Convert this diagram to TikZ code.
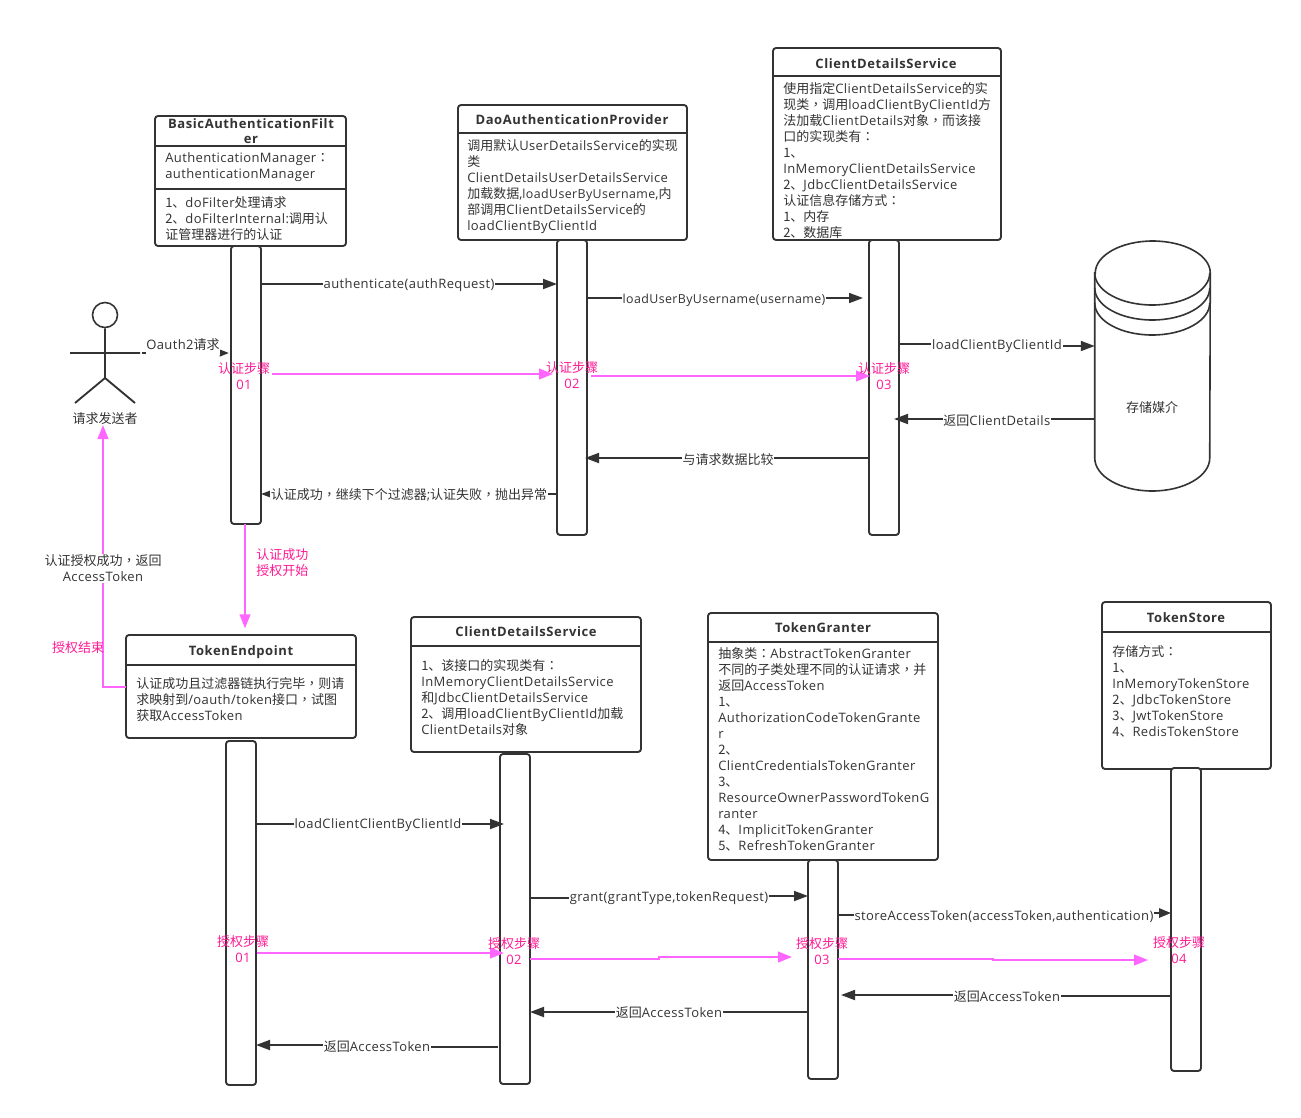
\documentclass[tikz,border=0pt]{standalone}
\usepackage{fontspec}
\setmainfont{Open Sans}[LetterSpace=3.1,BoldFeatures={LetterSpace=4.6}]
\newfontfamily\cjk{Noto Sans CJK SC}
\newfontfamily\cjkp{Noto Sans CJK TC}
\usetikzlibrary{arrows.meta}
\newcommand{\Z}[1]{{\cjk #1}}
\newcommand{\Cc}{{\cjkp ，}}
\newcommand{\Cl}{{\cjkp ：}}
\definecolor{ink}{HTML}{333333}
\definecolor{pinkline}{HTML}{FF66FF}
\definecolor{pinktext}{HTML}{FF1A94}
\tikzset{
  base/.style={font=\fontsize{9.75}{12}\selectfont, text=ink},
  shapebox/.style={draw=ink, line width=1.4pt, fill=white, rounded corners=2.25pt, inner sep=0pt, outer sep=0pt},
  sepline/.style={draw=ink, line width=1.4pt},
  head/.style={base, font=\fontsize{9.75}{12}\selectfont\bfseries, align=center, inner sep=0pt, anchor=north},
  bodytext/.style={base, align=left, inner sep=0pt, anchor=north west, execute at begin node=\strut},
  lbl/.style={base, fill=white, inner sep=0.6pt, yshift=-0.9pt},
  steplbl/.style={base, text=pinktext, align=center, inner sep=0pt, anchor=north, execute at begin node=\strut},
  msg/.style={draw=ink, line width=1.4pt, -{Triangle[length=10.5pt,width=7.5pt]}},
  flow/.style={draw=pinkline, line width=1.5pt, -{Triangle[length=10.5pt,width=8pt]}},
}
\newcommand{\bx}[5]{\node[shapebox, minimum width={(#4-#2)*0.75pt}, minimum height={(#5-#3)*0.75pt}] (#1) at ({(#2+#4)/2},{(#3+#5)/2}) {};}
\begin{document}
\begin{tikzpicture}[x=0.75pt,y=-0.75pt]
\useasboundingbox (0,0) rectangle (1301,1117);

% class boxes, top row
\bx{filter}{155}{116}{346}{246}
\draw[sepline] (filter.west |- 0,146) -- (filter.east |- 0,146);
\draw[sepline] (filter.west |- 0,189) -- (filter.east |- 0,189);
\node[head, text width=140pt] (filterH) at (251,118) {BasicAuthenticationFilt\\[-0.6pt]er};
\node[bodytext] (filterF) at (165,152) {AuthenticationManager\Cl\\authenticationManager};
\node[bodytext] (filterM) at (165,196) {\Z{1、}doFilter\Z{处理请求}\\\Z{2、}doFilterInternal:\Z{调用认}\\\Z{证管理器进行的认证}};

\bx{dao}{458}{105}{687}{240}
\draw[sepline] (dao.west |- 0,133) -- (dao.east |- 0,133);
\node[head] (daoH) at (572,114) {DaoAuthenticationProvider};
\node[bodytext] (daoT) at (467,139) {\Z{调用默认}UserDetailsService\Z{的实现}\\\Z{类}\\ClientDetailsUserDetailsService\\\Z{加载数据},{\fontsize{9.3}{12}\selectfont loadUserByUsername},\Z{内}\\\Z{部调用}ClientDetailsService\Z{的}\\loadClientByClientId};

\bx{cds}{773}{48}{1001}{240}
\draw[sepline] (cds.west |- 0,76) -- (cds.east |- 0,76);
\node[head] (cdsH) at (886,58) {ClientDetailsService};
\node[bodytext] (cdsT) at (783,82) {\Z{使用指定}ClientDetailsService\Z{的实}\\\Z{现类}\Cc\Z{调用}loadClientByClientId\Z{方}\\\Z{法加载}ClientDetails\Z{对象}\Cc\Z{而该接}\\\Z{口的实现类有}\Cl\\\Z{1、}\\InMemoryClientDetailsService\\\Z{2、}JdbcClientDetailsService\\\Z{认证信息存储方式}\Cl\\\Z{1、内存}\\\Z{2、数据库}};

% activation bars, top row
\bx{aA}{231}{246}{261}{524}
\bx{aB}{557}{240}{587}{535}
\bx{aC}{869}{240}{899}{535}

% store (cylinder)
\node[inner sep=0pt, minimum width=86.25pt, minimum height=187.5pt] (store) at (1152.5,366) {};
\draw[draw=ink, line width=1.2pt, fill=white]
  (store.west |- 0,273) -- (store.west |- 0,458)
  arc[start angle=180, end angle=360, x radius=57.5, y radius=-33]
  -- (store.east |- 0,273)
  arc[start angle=0, end angle=180, x radius=57.5, y radius=-32] -- cycle;
\draw[draw=ink, line width=1.2pt] (store.west |- 0,273) arc[start angle=180, end angle=360, x radius=57.5, y radius=-32];
\draw[draw=ink, line width=1.2pt] (store.west |- 0,288) arc[start angle=180, end angle=360, x radius=57.5, y radius=-32];
\draw[draw=ink, line width=1.2pt] (store.west |- 0,303) arc[start angle=180, end angle=360, x radius=57.5, y radius=-32];
\node[base, inner sep=0pt] (storeT) at (1152,408) {\Z{存储媒介}};

% actor
\node[circle, draw=ink, line width=1.2pt, minimum size=18.75pt, inner sep=0pt] (actorHead) at (105,315) {};
\coordinate (hip) at (105,378);
\coordinate (armL) at (70,353);
\coordinate (armR) at (140,353);
\coordinate (armEnd) at (142,353);
\coordinate (legL) at (75,403);
\coordinate (legR) at (135,403);
\draw[draw=ink, line width=1.4pt] (actorHead.south) -- (hip) (armL) -- (armR) (legL) -- (hip) -- (legR);
\node[base, inner sep=0pt] (actorT) at (105,419) {\Z{请求发送者}};
\coordinate (actorFoot) at (103,425);

% class boxes, bottom row
\bx{te}{126}{635}{356}{738}
\draw[sepline] (te.west |- 0,665) -- (te.east |- 0,665);
\node[head] (teH) at (241,645) {TokenEndpoint};
\node[bodytext] (teT) at (136,677) {\Z{认证成功且过滤器链执行完毕}\Cc\Z{则请}\\\Z{求映射到}/oauth/token\Z{接口}\Cc\Z{试图}\\\Z{获取}AccessToken};

\bx{cdb}{411}{617}{641}{752}
\draw[sepline] (cdb.west |- 0,646) -- (cdb.east |- 0,646);
\node[head] (cdbH) at (526,626) {ClientDetailsService};
\node[bodytext] (cdbT) at (421,659) {\Z{1、该接口的实现类有}\Cl\\InMemoryClientDetailsService\\\Z{和}JdbcClientDetailsService\\\Z{2、调用}loadClientByClientId\Z{加载}\\ClientDetails\Z{对象}};

\bx{tg}{708}{613}{938}{860}
\draw[sepline] (tg.west |- 0,642) -- (tg.east |- 0,642);
\node[head] (tgH) at (823,622) {TokenGranter};
\node[bodytext] (tgT) at (718,647) {\Z{抽象类}\Cl AbstractTokenGranter\\\Z{不同的子类处理不同的认证请求}\Cc\Z{并}\\\Z{返回}AccessToken\\\Z{1、}\\AuthorizationCodeTokenGrante\\r\\\Z{2、}\\ClientCredentialsTokenGranter\\\Z{3、}\\ResourceOwnerPasswordTokenG\\ranter\\\Z{4、}ImplicitTokenGranter\\\Z{5、}RefreshTokenGranter};

\bx{ts}{1102}{602}{1271}{769}
\draw[sepline] (ts.west |- 0,632) -- (ts.east |- 0,632);
\node[head] (tsH) at (1186,612) {TokenStore};
\node[bodytext] (tsT) at (1112,645) {\Z{存储方式}\Cl\\\Z{1、}\\InMemoryTokenStore\\\Z{2、}JdbcTokenStore\\\Z{3、}JwtTokenStore\\\Z{4、}RedisTokenStore};

% activation bars, bottom row
\bx{bA}{226}{741}{256}{1085}
\bx{bB}{500}{754}{530}{1084}
\bx{bC}{808}{860}{838}{1079}
\bx{bD}{1171}{768}{1201}{1071}

% messages, top
\draw[draw=ink, line width=1.4pt, -{Triangle[length=7pt,width=5pt]}] (armEnd) -- (229,353);
\node[lbl, text height=9pt, text depth=3.4pt, inner sep=0.5pt] (m0) at (183,345) {Oauth2\Z{请求}};
\draw[msg] (aA.east |- 0,284) -- (aB.west |- 0,284) node[lbl, midway] (m1) {authenticate(authRequest)};
\draw[msg, shorten >=4.5pt] (aB.east |- 0,298) -- (aC.west |- 0,298);
\node[lbl, font=\fontsize{9.3}{12}\selectfont] (m2) at (724,299) {loadUserByUsername(username)};
\draw[msg] (aC.east |- 0,344) -- (996,344) -- (996,346) -- (store.west |- 0,346);
\node[lbl] (m3) at (997,345) {loadClientByClientId};
\draw[msg, shorten >=-3.75pt] (store.west |- 0,419) -- (aC.east |- 0,419) node[lbl, midway] (m4) {\Z{返回}ClientDetails};
\draw[msg, shorten >=-1.5pt] (aC.west |- 0,458) -- (aB.east |- 0,458) node[lbl, midway] (m5) {\Z{与请求数据比较}};
\draw[msg] (aB.west |- 0,494) -- (aA.east |- 0,494) node[lbl, midway] (m6) {\Z{认证成功}\Cc\Z{继续下个过滤器};\Z{认证失败}\Cc\Z{抛出异常}};

% pink flows, top
\draw[flow, shorten <=8.25pt, shorten >=3pt] (aA.east |- 0,374) -- (aB.west |- 0,374);
\draw[flow, shorten <=3pt, shorten >=-0.75pt] (aB.east |- 0,376) -- (aC.west |- 0,376);
\draw[flow, shorten >=5pt] (245,0 |- aA.south) -- (245,0 |- te.north);
\draw[flow] (te.west |- 0,687) -- (103,687) -- (actorFoot);
\node[lbl, align=center] (backL) at (103,567) {\Z{认证授权成功}\Cc\Z{返回}\\AccessToken};
\node[base, text=pinktext, inner sep=0pt] (endL) at (78,648) {\Z{授权结束}};
\node[base, text=pinktext, align=left, inner sep=0pt, anchor=north west, execute at begin node=\strut] (startL) at (256,548) {\Z{认证成功}\\\Z{授权开始}};
\node[steplbl] (s1) at (244,362) {\Z{认证步骤}\\01};
\node[steplbl] (s2) at (572,361) {\Z{认证步骤}\\02};
\node[steplbl] (s3) at (884,362) {\Z{认证步骤}\\03};

% messages, bottom
\draw[msg, shorten >=-3pt] (bA.east |- 0,824) -- (bB.west |- 0,824) node[lbl, midway] (n1) {loadClientClientByClientId};
\draw[msg] (bB.east |- 0,898) -- (669,898) -- (669,896) -- (bC.west |- 0,896);
\node[lbl] (n2) at (669,897) {grant(grantType,tokenRequest)};
\draw[msg, -{Triangle[length=9pt,width=7pt]}] (bC.east |- 0,915) -- (1004,915) -- (1004,913) -- (bD.west |- 0,913);
\node[lbl] (n3) at (1004,915) {storeAccessToken(accessToken,authentication)};
\coordinate (n4end) at (841,995);
\draw[msg] (bD.west |- 0,996) -- (1007,996) -- (1007,995) -- (n4end);
\node[lbl] (n4) at (1007,995) {\Z{返回}AccessToken};
\draw[msg] (bC.west |- 0,1012) -- (bB.east |- 0,1012) node[lbl, midway, yshift=0.6pt] (n5) {\Z{返回}AccessToken};
\coordinate (n6start) at (498,1047);
\draw[msg] (n6start) -- (377,1047) -- (377,1045) -- (bA.east |- 0,1045);
\node[lbl] (n6) at (377,1045) {\Z{返回}AccessToken};

% pink flows, bottom
\coordinate (f2end) at (792,957);
\coordinate (f3end) at (1148,960);
\draw[flow, shorten <=0.75pt, shorten >=-3pt] (bA.east |- 0,953) -- (bB.west |- 0,953);
\draw[flow] (bB.east |- 0,959) -- (659,959) -- (659,957) -- (f2end);
\draw[flow] (bC.east |- 0,959) -- (993,959) -- (993,960) -- (f3end);
\node[steplbl] (p1) at (243,935) {\Z{授权步骤}\\01};
\node[steplbl] (p2) at (514,937) {\Z{授权步骤}\\02};
\node[steplbl] (p3) at (822,937) {\Z{授权步骤}\\03};
\node[steplbl] (p4) at (1179,936) {\Z{授权步骤}\\04};
\end{tikzpicture}
\end{document}
